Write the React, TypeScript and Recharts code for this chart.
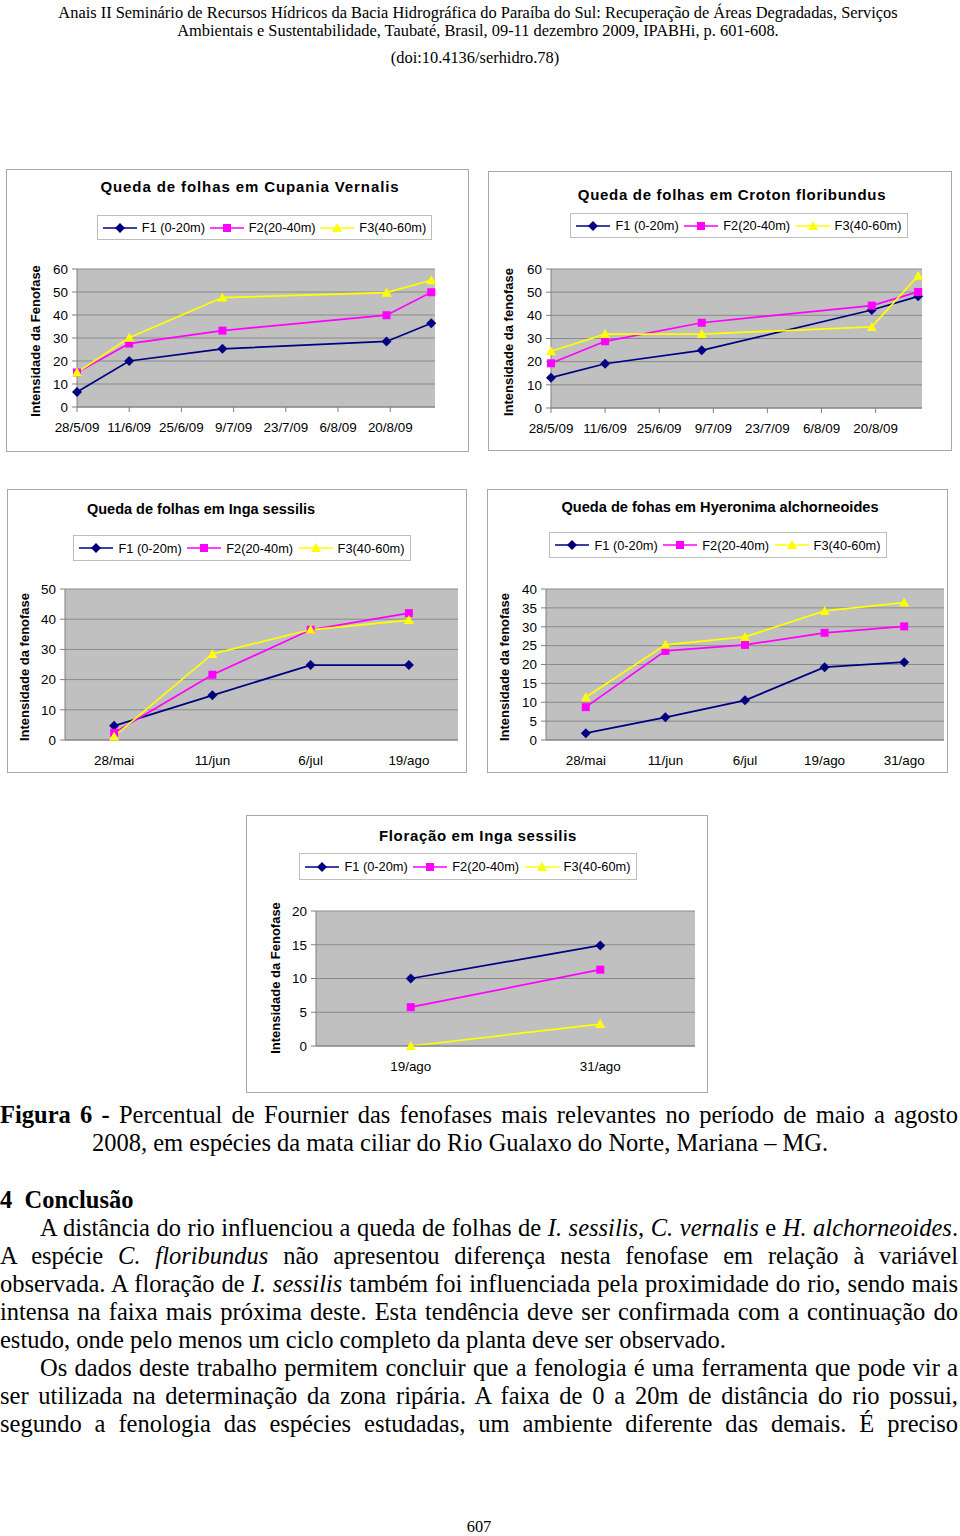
import React from "react";
import { CartesianGrid, Line, LineChart, XAxis, YAxis } from "recharts";

const NAVY = "#000080";
const PINK = "#ff00ff";
const YELLOW = "#ffff00";
const SANS = '"Liberation Sans", Arial, sans-serif';
const SERIF = '"Liberation Serif", "Times New Roman", serif';

// Queda de folhas em Cupania Vernalis
const cupaniaDates = ["28/5/09", "11/6/09", "6/7/09", "19/8/09", "31/8/09"];
const cupaniaF1 = [6.5, 20, 25.3, 28.5, 36.4];
const cupaniaF2 = [15, 27.6, 33.2, 39.9, 49.9];
const cupaniaF3 = [15, 30.1, 47.6, 49.7, 55.1];

// Queda de folhas em Croton floribundus
const crotonDates = ["28/5/09", "11/6/09", "6/7/09", "19/8/09", "31/8/09"];
const crotonF1 = [13.1, 19.1, 24.9, 42.3, 48.2];
const crotonF2 = [19.3, 28.8, 36.8, 44.2, 50.1];
const crotonF3 = [24.5, 31.9, 31.9, 35, 57.1];

const dateTicks = ["28/5/09", "11/6/09", "25/6/09", "9/7/09", "23/7/09", "6/8/09", "20/8/09"];
const dateAxisEnd = "1/9/09";
const ticks60 = [0, 10, 20, 30, 40, 50, 60];

// Queda de folhas em Inga sessilis
const ingaDates = ["28/mai", "11/jun", "6/jul", "19/ago"];
const ingaF1 = [4.7, 14.8, 24.8, 24.8];
const ingaF2 = [2.4, 21.6, 36.5, 42];
const ingaF3 = [1.2, 28.5, 36.5, 39.7];
const ticks50 = [0, 10, 20, 30, 40, 50];

// Queda de fohas em Hyeronima alchorneoides
const hyeroDates = ["28/mai", "11/jun", "6/jul", "19/ago", "31/ago"];
const hyeroF1 = [1.8, 6, 10.5, 19.3, 20.6];
const hyeroF2 = [8.7, 23.6, 25.2, 28.4, 30.1];
const hyeroF3 = [11.3, 25.2, 27.3, 34.2, 36.4];
const ticks40 = [0, 5, 10, 15, 20, 25, 30, 35, 40];

// Floração em Inga sessilis
const floraDates = ["19/ago", "31/ago"];
const floraF1 = [10, 14.9];
const floraF2 = [5.75, 11.3];
const floraF3 = [0, 3.25];
const ticks20 = [0, 5, 10, 15, 20];

const legendNames = ["F1 (0-20m)", "F2(20-40m)", "F3(40-60m)"];

function dayOf(s: string) {
  const [d, m, y] = s.split("/").map(Number);
  return Math.round((Date.UTC(2000 + y, m - 1, d) - Date.UTC(2009, 4, 28)) / 86400000);
}

type Kind = "f1" | "f2" | "f3";
const COLORS: Record<Kind, string> = { f1: NAVY, f2: PINK, f3: YELLOW };

function Marker({ kind, cx, cy }: { kind: Kind; cx: number; cy: number }) {
  if (kind === "f1")
    return <path d={`M${cx},${cy - 5}L${cx + 5},${cy}L${cx},${cy + 5}L${cx - 5},${cy}Z`} fill={NAVY} />;
  if (kind === "f2") return <rect x={cx - 4} y={cy - 4} width={8} height={8} fill={PINK} />;
  return <path d={`M${cx},${cy - 5}L${cx + 5},${cy + 4}L${cx - 5},${cy + 4}Z`} fill={YELLOW} />;
}

type Rect = { l: number; t: number; r: number; b: number };

type PanelProps = {
  box: Rect;
  plot: Rect;
  title: string;
  titleAt: [number, number];
  titleSize?: number;
  titleSpacing?: number;
  legend: Rect;
  yTitle: string;
  yTitleAt: [number, number];
  cats: string[];
  f1: number[];
  f2: number[];
  f3: number[];
  dateAxis?: boolean;
  yTicks: number[];
};

function Panel(p: PanelProps) {
  const rows = p.cats.map((c, i) => ({
    x: p.dateAxis ? dayOf(c) : c,
    f1: p.f1[i],
    f2: p.f2[i],
    f3: p.f3[i],
  }));
  const left = p.plot.l - 50;
  const top = p.plot.t - 10;
  const width = p.plot.r - left + 10;
  const height = p.plot.b - top + 30;
  const pad = (p.plot.r - p.plot.l) / (2 * p.cats.length);
  const tickDays = dateTicks.map(dayOf);
  const tickStyle = { fontSize: 13.4, fill: "#000", fontFamily: SANS };

  return (
    <>
      <div
        style={{
          position: "absolute",
          left: p.box.l,
          top: p.box.t,
          width: p.box.r - p.box.l,
          height: p.box.b - p.box.t,
          border: "1px solid #a8a8a8",
          boxSizing: "border-box",
        }}
      />
      <div
        style={{
          position: "absolute",
          left: p.titleAt[0],
          top: p.titleAt[1],
          transform: "translate(-50%, -50%)",
          fontFamily: SANS,
          fontWeight: "bold",
          fontSize: p.titleSize ?? 15,
          letterSpacing: p.titleSpacing ?? 0,
          whiteSpace: "nowrap",
        }}
      >
        {p.title}
      </div>
      <div
        style={{
          position: "absolute",
          left: p.legend.l,
          top: p.legend.t,
          width: p.legend.r - p.legend.l,
          height: p.legend.b - p.legend.t,
          border: "1px solid #bdbdbd",
          boxSizing: "border-box",
          display: "flex",
          alignItems: "center",
          justifyContent: "space-evenly",
          fontFamily: SANS,
          fontSize: 12.8,
        }}
      >
        {(["f1", "f2", "f3"] as Kind[]).map((k, i) => (
          <span key={k} style={{ display: "flex", alignItems: "center", gap: 5 }}>
            <svg width={34} height={12}>
              <line x1={0} y1={6} x2={34} y2={6} stroke={COLORS[k]} strokeWidth={1.5} />
              <Marker kind={k} cx={17} cy={6} />
            </svg>
            {legendNames[i]}
          </span>
        ))}
      </div>
      <div
        style={{
          position: "absolute",
          left: p.yTitleAt[0],
          top: p.yTitleAt[1],
          transform: "translate(-50%, -50%) rotate(-90deg)",
          fontFamily: SANS,
          fontWeight: "bold",
          fontSize: 13,
          whiteSpace: "nowrap",
        }}
      >
        {p.yTitle}
      </div>
      <div style={{ position: "absolute", left, top }}>
        <LineChart width={width} height={height} data={rows} margin={{ top: 10, right: 10, bottom: 0, left: 0 }}>
          <CartesianGrid fill="#c0c0c0" stroke="#8a8a8a" vertical={false} />
          {p.dateAxis ? (
            <XAxis
              type="number"
              dataKey="x"
              domain={[0, dayOf(dateAxisEnd)]}
              ticks={tickDays}
              interval={0}
              tickFormatter={(v: number) => dateTicks[tickDays.indexOf(v)]}
              height={30}
              tickSize={5}
              tickMargin={10}
              stroke="#808080"
              tick={tickStyle}
            />
          ) : (
            <XAxis
              dataKey="x"
              type="category"
              padding={{ left: pad, right: pad }}
              interval={0}
              height={30}
              tickLine={false}
              tickMargin={9}
              stroke="#808080"
              tick={tickStyle}
            />
          )}
          <YAxis
            width={50}
            domain={[0, p.yTicks[p.yTicks.length - 1]]}
            ticks={p.yTicks}
            interval={0}
            tickSize={5}
            tickMargin={4}
            stroke="#808080"
            tick={tickStyle}
          />
          <YAxis yAxisId="frame" orientation="right" width={0} tick={false} tickLine={false} stroke="#808080" domain={[0, 1]} />
          {(["f1", "f2", "f3"] as Kind[]).map((k) => (
            <Line
              key={k}
              type="linear"
              dataKey={k}
              stroke={COLORS[k]}
              strokeWidth={1.75}
              isAnimationActive={false}
              dot={(d: any) => <Marker key={`${k}-${d.index}`} kind={k} cx={d.cx} cy={d.cy} />}
            />
          ))}
        </LineChart>
      </div>
    </>
  );
}

function TextLine({
  y,
  left = 0,
  right = 958,
  justify = true,
  size = 24.5,
  children,
}: {
  y: number;
  left?: number;
  right?: number;
  justify?: boolean;
  size?: number;
  children: React.ReactNode;
}) {
  return (
    <div
      style={{
        position: "absolute",
        left,
        top: y - 14,
        width: right - left,
        height: 28,
        lineHeight: "28px",
        fontFamily: SERIF,
        fontSize: size,
        textAlign: justify ? "justify" : "left",
        textAlignLast: justify ? "justify" : "left",
      }}
    >
      {children}
    </div>
  );
}

export default function App() {
  return (
    <div
      style={{
        position: "absolute",
        left: 0,
        top: 0,
        width: 960,
        height: 1536,
        background: "#fff",
        overflow: "hidden",
        color: "#000",
      }}
    >
      <div style={{ position: "absolute", left: 0, top: 4, width: 956, textAlign: "center", fontFamily: SERIF, fontSize: 16.4, lineHeight: "18px" }}>
        Anais II Seminário de Recursos Hídricos da Bacia Hidrográfica do Paraíba do Sul: Recuperação de Áreas Degradadas, Serviços
        <br />
        Ambientais e Sustentabilidade, Taubaté, Brasil, 09-11 dezembro 2009, IPABHi, p. 601-608.
      </div>
      <div style={{ position: "absolute", left: 0, top: 49, width: 950, textAlign: "center", fontFamily: SERIF, fontSize: 16.4, lineHeight: "18px" }}>
        (doi:10.4136/serhidro.78)
      </div>

      <Panel
        box={{ l: 6, t: 169, r: 469, b: 452 }}
        plot={{ l: 77, t: 269, r: 435, b: 407 }}
        title="Queda de folhas em Cupania Vernalis"
        titleAt={[250, 186]}
        titleSpacing={0.9}
        legend={{ l: 97, t: 215, r: 432, b: 240 }}
        yTitle="Intensidade da Fenofase"
        yTitleAt={[35, 341]}
        cats={cupaniaDates}
        f1={cupaniaF1}
        f2={cupaniaF2}
        f3={cupaniaF3}
        dateAxis
        yTicks={ticks60}
      />
      <Panel
        box={{ l: 488, t: 171, r: 952, b: 451 }}
        plot={{ l: 551, t: 269, r: 922, b: 408 }}
        title="Queda de folhas em Croton floribundus"
        titleAt={[732, 194]}
        titleSpacing={0.7}
        legend={{ l: 570, t: 213, r: 908, b: 238 }}
        yTitle="Intensidade da fenofase"
        yTitleAt={[508, 342]}
        cats={crotonDates}
        f1={crotonF1}
        f2={crotonF2}
        f3={crotonF3}
        dateAxis
        yTicks={ticks60}
      />
      <Panel
        box={{ l: 7, t: 489, r: 467, b: 773 }}
        plot={{ l: 65, t: 589, r: 458, b: 740 }}
        title="Queda de folhas em Inga sessilis"
        titleAt={[201, 509]}
        titleSize={14.5}
        legend={{ l: 73, t: 535, r: 411, b: 561 }}
        yTitle="Intensidade da fenofase"
        yTitleAt={[24, 667]}
        cats={ingaDates}
        f1={ingaF1}
        f2={ingaF2}
        f3={ingaF3}
        yTicks={ticks50}
      />
      <Panel
        box={{ l: 487, t: 489, r: 948, b: 773 }}
        plot={{ l: 546, t: 589, r: 944, b: 740 }}
        title="Queda de fohas em Hyeronima alchorneoides"
        titleAt={[720, 507]}
        titleSize={14.6}
        legend={{ l: 549, t: 532, r: 887, b: 558 }}
        yTitle="Intensidade da fenofase"
        yTitleAt={[504, 667]}
        cats={hyeroDates}
        f1={hyeroF1}
        f2={hyeroF2}
        f3={hyeroF3}
        yTicks={ticks40}
      />
      <Panel
        box={{ l: 246, t: 815, r: 708, b: 1093 }}
        plot={{ l: 316, t: 911, r: 695, b: 1046 }}
        title="Floração em Inga sessilis"
        titleAt={[478, 835]}
        titleSpacing={0.65}
        legend={{ l: 299, t: 853, r: 637, b: 880 }}
        yTitle="Intensidade da Fenofase"
        yTitleAt={[275, 978]}
        cats={floraDates}
        f1={floraF1}
        f2={floraF2}
        f3={floraF3}
        yTicks={ticks20}
      />

      <TextLine y={1115}>
        <b>Figura 6 -</b> Percentual de Fournier das fenofases mais relevantes no período de maio a agosto
      </TextLine>
      <TextLine y={1143} left={92} justify={false}>
        2008, em espécies da mata ciliar do Rio Gualaxo do Norte, Mariana – MG.
      </TextLine>
      <TextLine y={1200} justify={false}>
        <b>4&nbsp; Conclusão</b>
      </TextLine>
      <TextLine y={1228} left={40}>
        A distância do rio influenciou a queda de folhas de <i>I. sessilis</i>, <i>C. vernalis</i> e <i>H. alchorneoides</i>.
      </TextLine>
      <TextLine y={1256}>
        A espécie <i>C. floribundus</i> não apresentou diferença nesta fenofase em relação à variável
      </TextLine>
      <TextLine y={1284}>
        observada. A floração de <i>I. sessilis</i> também foi influenciada pela proximidade do rio, sendo mais
      </TextLine>
      <TextLine y={1312}>
        intensa na faixa mais próxima deste. Esta tendência deve ser confirmada com a continuação do
      </TextLine>
      <TextLine y={1340} justify={false}>
        estudo, onde pelo menos um ciclo completo da planta deve ser observado.
      </TextLine>
      <TextLine y={1368} left={40}>
        Os dados deste trabalho permitem concluir que a fenologia é uma ferramenta que pode vir a
      </TextLine>
      <TextLine y={1396}>
        ser utilizada na determinação da zona ripária. A faixa de 0 a 20m de distância do rio possui,
      </TextLine>
      <TextLine y={1424}>
        segundo a fenologia das espécies estudadas, um ambiente diferente das demais. É preciso
      </TextLine>
      <div style={{ position: "absolute", left: 0, top: 1518, width: 958, textAlign: "center", fontFamily: SERIF, fontSize: 16.4, lineHeight: "18px" }}>
        607
      </div>
    </div>
  );
}
